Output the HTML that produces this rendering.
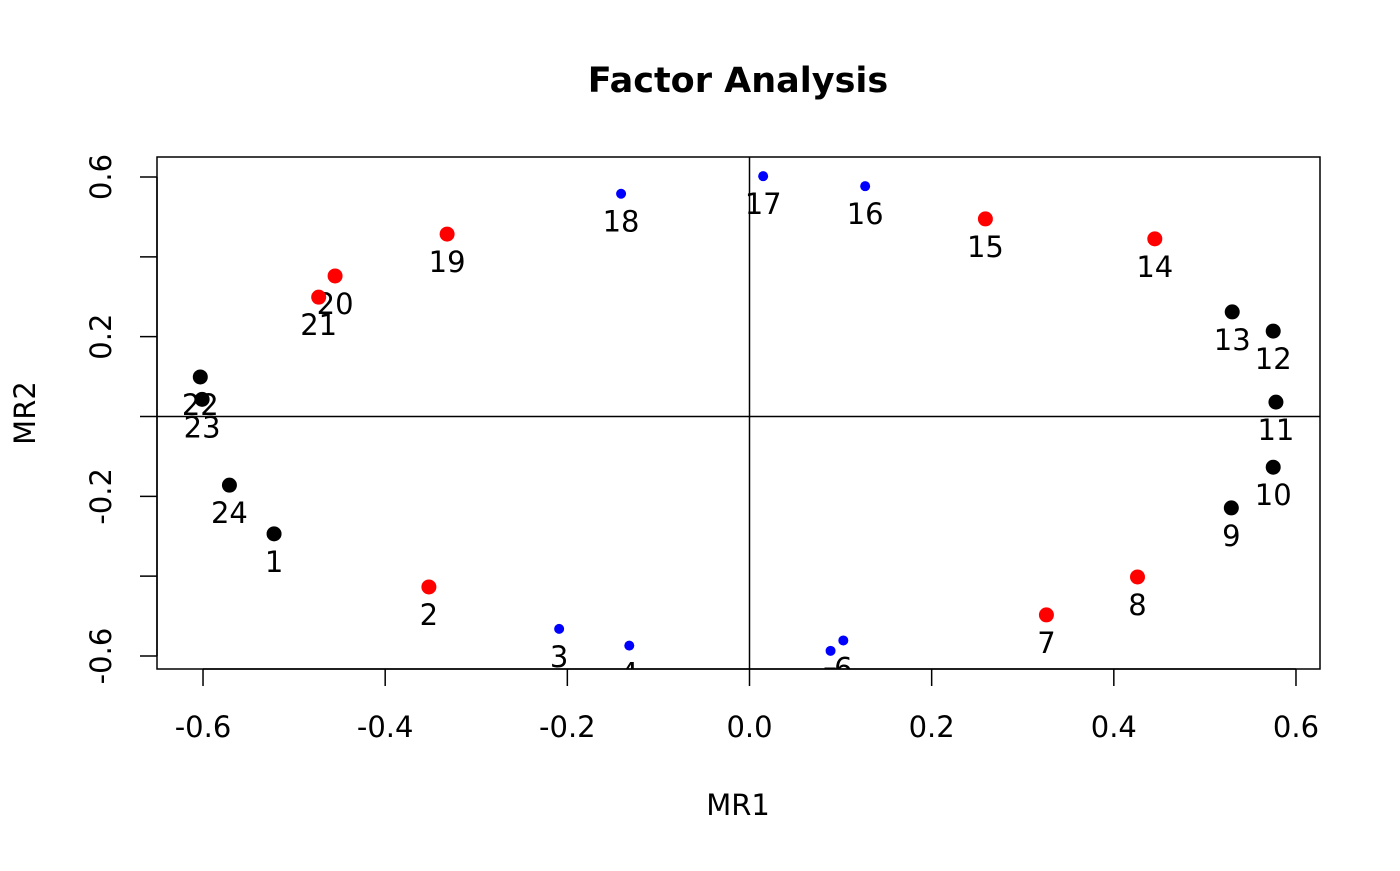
<!DOCTYPE html>
<html><head><meta charset="utf-8"><style>
body{margin:0;background:#fff;}
svg text{font-family:"DejaVu Sans","Liberation Sans",sans-serif;}
</style></head><body>
<svg id="chart" width="1400" height="866">
<defs><clipPath id="plotclip"><rect x="157" y="157" width="1163" height="512"/></clipPath></defs>
<text x="738" y="92" text-anchor="middle" font-size="35" font-weight="bold">Factor Analysis</text>
<rect x="157" y="157" width="1163" height="512" fill="none" stroke="#000" stroke-width="1.5"/>
<g id="xaxis"></g>
<g id="yaxis"></g>
<text x="738" y="815" text-anchor="middle" font-size="29">MR1</text>
<text transform="translate(35,413) rotate(-90)" text-anchor="middle" font-size="29">MR2</text>
<g clip-path="url(#plotclip)" id="plot"></g>
</svg>
<script>
const labels=["1","2","3","4","5","6","7","8","9","10","11","12","13","14","15","16","17","18","19","20","21","22","23","24"];
const mr1=[-0.522,-0.352,-0.209,-0.132,0.089,0.103,0.326,0.426,0.529,0.575,0.578,0.575,0.530,0.445,0.259,0.127,0.015,-0.141,-0.332,-0.455,-0.473,-0.603,-0.601,-0.571];
const mr2=[-0.294,-0.427,-0.532,-0.574,-0.587,-0.561,-0.497,-0.402,-0.229,-0.127,0.036,0.214,0.262,0.445,0.495,0.577,0.602,0.558,0.457,0.352,0.299,0.099,0.043,-0.172];
const groups=["k","r","b","b","b","b","r","r","k","k","k","k","k","r","r","b","b","b","r","r","r","k","k","k"];
const xTicks=[-0.6,-0.4,-0.2,0.0,0.2,0.4,0.6];
const xTickLabels=["-0.6","-0.4","-0.2","0.0","0.2","0.4","0.6"];
const yTicks=[-0.6,-0.2,0.2,0.6];
const yTickLabels=["-0.6","-0.2","0.2","0.6"];
const yMinorTicks=[-0.4,0.0,0.4];
const NS="http://www.w3.org/2000/svg";
function X(v){return 749.5+v*910.8;}
function Y(v){return 416.5-v*399.2;}
function mk(tag,attrs,parent,txt){const e=document.createElementNS(NS,tag);for(const k in attrs)e.setAttribute(k,attrs[k]);if(txt!==undefined)e.textContent=txt;parent.appendChild(e);return e;}
const xa=document.getElementById('xaxis'),ya=document.getElementById('yaxis'),pl=document.getElementById('plot');
mk('line',{x1:X(-0.6),x2:X(0.6),y1:669,y2:669,stroke:'#000','stroke-width':1.5},xa);
xTicks.forEach((t,i)=>{
 const l=mk('line',{x1:X(t),x2:X(t),y1:669,y2:686,stroke:'#000','stroke-width':1.5},xa);
 
 
 const tx=mk('text',{x:X(t),y:737,'text-anchor':'middle','font-size':29},xa,xTickLabels[i]);
 
 
});
mk('line',{x1:157,x2:157,y1:Y(0.6),y2:Y(-0.6),stroke:'#000','stroke-width':1.5},ya);
yTicks.concat(yMinorTicks).forEach(t=>{
 const l=mk('line',{x1:140,x2:157,y1:Y(t),y2:Y(t),stroke:'#000','stroke-width':1.5},ya);
 
 
});
yTicks.forEach((t,i)=>{
 const tx=mk('text',{transform:`translate(111,${Y(t)}) rotate(-90)`,'text-anchor':'middle','font-size':29},ya,yTickLabels[i]);
 
 
});
const h=mk('line',{x1:157,x2:1320,y1:Y(0),y2:Y(0),stroke:'#000','stroke-width':1.5},pl);


const v=mk('line',{x1:X(0),x2:X(0),y1:157,y2:669,stroke:'#000','stroke-width':1.5},pl);


const col={k:'#000',r:'#ff0000',b:'#0000ff'};
labels.forEach((lab,i)=>{
 const g=groups[i];
 const c=mk('circle',{cx:X(mr1[i]),cy:Y(mr2[i]),r:g==='b'?5:7.5,fill:col[g]},pl);
 
 
 const t=mk('text',{x:X(mr1[i]),y:Y(mr2[i])+38,'text-anchor':'middle','font-size':29},pl,lab);
 
 
});
</script>
</body></html>
